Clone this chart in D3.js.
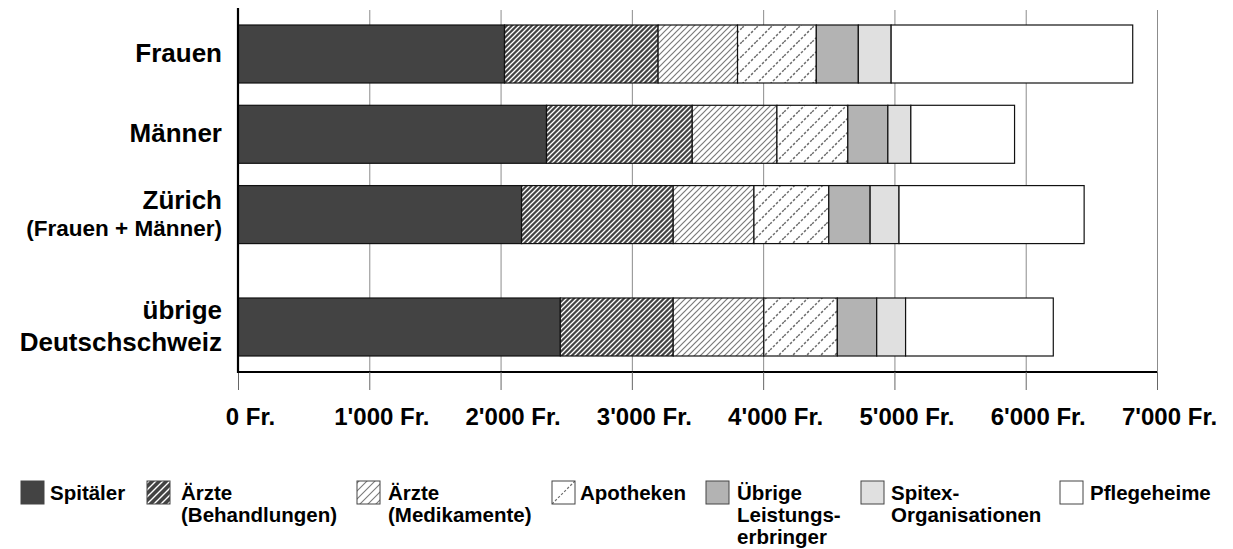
<!DOCTYPE html>
<html>
<head>
<meta charset="utf-8">
<script src="https://cdn.jsdelivr.net/npm/d3@7"></script>
<style>
  html, body { margin: 0; padding: 0; background: #ffffff; }
  svg { display: block; font-family: "Liberation Sans", Arial, sans-serif; font-weight: bold; }
</style>
</head>
<body>
<svg id="chart" width="1233" height="549"></svg>
<script>
// ---------- DATA ----------
const categories = ["Frauen", "Männer", "Zürich (Frauen + Männer)", "übrige Deutschschweiz"];
const categoryLines = [["Frauen"], ["Männer"], ["Zürich", "(Frauen + Männer)"], ["übrige", "Deutschschweiz"]];
const seriesNames = ["Spitäler", "Ärzte (Behandlungen)", "Ärzte (Medikamente)", "Apotheken",
                     "Übrige Leistungserbringer", "Spitex-Organisationen", "Pflegeheime"];
const legendLines = [["Spitäler"], ["Ärzte", "(Behandlungen)"], ["Ärzte", "(Medikamente)"], ["Apotheken"],
                     ["Übrige", "Leistungs-", "erbringer"], ["Spitex-", "Organisationen"], ["Pflegeheime"]];
const spitaeler   = [2030, 2350, 2160, 2455];
const aerzteBeh   = [1170, 1110, 1155, 860];
const aerzteMed   = [605, 645, 615, 690];
const apotheken   = [600, 540, 570, 560];
const uebrige     = [320, 305, 315, 300];
const spitex      = [250, 175, 220, 220];
const pflegeheime = [1840, 790, 1410, 1125];
const tickValues  = [0, 1000, 2000, 3000, 4000, 5000, 6000, 7000];
const tickLabels  = ["0 Fr.", "1'000 Fr.", "2'000 Fr.", "3'000 Fr.", "4'000 Fr.", "5'000 Fr.", "6'000 Fr.", "7'000 Fr."];

// ---------- LAYOUT / STYLE ----------
const rowSlots = [0, 1, 2, 3.4];           // vertical slot of each category (gap before last)
const plot = { left: 238, right: 1157, top: 10, bottom: 372 };
const barH = 58;
const fills = ["#434343", "url(#pBeh)", "url(#pMed)", "url(#pApo)", "#b3b3b3", "#e0e0e0", "#ffffff"];
const legendFills = ["#434343", "url(#lBeh)", "url(#lMed)", "url(#lApo)", "#b3b3b3", "#e0e0e0", "#ffffff"];
const legendSquareX = [21, 147, 357, 552, 706, 861, 1060];
const legendTextX   = [50, 181, 388, 580, 737, 891, 1090];

const svg = d3.select("#chart");
const defs = svg.append("defs");

function hatch(id, size, bg, color, width, dash) {
  const p = defs.append("pattern").attr("id", id).attr("patternUnits", "userSpaceOnUse")
    .attr("width", size).attr("height", size);
  p.append("rect").attr("width", size).attr("height", size).attr("fill", bg);
  p.append("path")
    .attr("d", `M${-size},${size} L${size},${-size} M0,${size} L${size},0 M0,${2*size} L${2*size},0`)
    .attr("stroke", color).attr("stroke-width", width)
    .attr("stroke-dasharray", dash || null);
}
hatch("pBeh", 5, "#434343", "#ffffff", 1.3, null);
hatch("pMed", 6, "#ffffff", "#7a7a7a", 1.2, null);
hatch("pApo", 14, "#ffffff", "#6e6e6e", 1.5, "2.5,1.8");
hatch("lBeh", 7, "#434343", "#ffffff", 1.4, null);
hatch("lMed", 8, "#ffffff", "#7a7a7a", 1.1, null);
hatch("lApo", 24, "#ffffff", "#6e6e6e", 1.2, "2.5,1.8");

// ---------- SCALES ----------
const x = d3.scaleLinear().domain([0, 7000]).range([plot.left, plot.right]);
const yc = d3.scaleLinear().domain([0, 3.4]).range([54, 327]);

// ---------- GRID ----------
const grid = svg.append("g").attr("transform", `translate(0,${plot.bottom})`)
  .call(d3.axisBottom(x).tickValues(tickValues).tickSize(-(plot.bottom - plot.top)).tickFormat(""));
grid.select(".domain").remove();
grid.selectAll(".tick line").attr("stroke", "#8c8c8c").attr("stroke-width", 1);

// ---------- BARS ----------
const keys = seriesNames;
const seriesArrays = [spitaeler, aerzteBeh, aerzteMed, apotheken, uebrige, spitex, pflegeheime];
const rows = categories.map((c, i) => {
  const r = { cat: c, idx: i };
  keys.forEach((k, j) => r[k] = seriesArrays[j][i]);
  return r;
});
const stacked = d3.stack().keys(keys)(rows);

svg.append("g").selectAll("g").data(stacked).join("g")
  .attr("fill", (d, i) => fills[i])
  .selectAll("rect").data(d => d).join("rect")
  .attr("x", d => x(d[0]))
  .attr("width", d => x(d[1]) - x(d[0]))
  .attr("y", d => yc(rowSlots[d.data.idx]) - barH / 2)
  .attr("height", barH)
  .attr("stroke", "#111")
  .attr("stroke-width", 1.2);

// ---------- AXES ----------
const xAxis = svg.append("g").attr("transform", `translate(0,${plot.bottom})`)
  .call(d3.axisBottom(x).tickValues(tickValues).tickSize(18).tickPadding(18)
        .tickFormat((d, i) => tickLabels[i]));
xAxis.select(".domain").attr("stroke", "#000").attr("stroke-width", 2.2)
  .attr("d", `M${plot.left},0H${plot.right}`);
xAxis.selectAll(".tick line").attr("stroke", "#666").attr("stroke-width", 1);
xAxis.selectAll(".tick text")
  .attr("font-family", "'Liberation Sans', Arial, sans-serif")
  .attr("font-weight", "bold").attr("font-size", 24).attr("fill", "#000")
  .attr("dx", 12);

svg.append("line")
  .attr("x1", plot.left).attr("x2", plot.left)
  .attr("y1", plot.top - 2).attr("y2", plot.bottom + 1)
  .attr("stroke", "#000").attr("stroke-width", 2.2);

// ---------- CATEGORY LABELS ----------
const catG = svg.append("g");
categoryLines.forEach((lines, i) => {
  const c = yc(rowSlots[i]);
  const sizes = lines.map((l, j) => (i === 2 && j === 1) ? 22.5 : 26);
  const gaps = lines.length > 1 ? (i === 2 ? 27 : 32) : 0;
  const start = c + 8 - gaps / 2;
  lines.forEach((l, j) => {
    catG.append("text")
      .attr("x", 222).attr("y", start + j * gaps)
      .attr("text-anchor", "end")
      .attr("font-size", sizes[j]).attr("fill", "#000")
      .text(l);
  });
});

// ---------- LEGEND ----------
const leg = svg.append("g");
seriesNames.forEach((s, i) => {
  leg.append("rect")
    .attr("x", legendSquareX[i]).attr("y", 481)
    .attr("width", 23).attr("height", 23)
    .attr("fill", legendFills[i]).attr("stroke", "#444").attr("stroke-width", 1);
  legendLines[i].forEach((l, j) => {
    leg.append("text")
      .attr("x", legendTextX[i]).attr("y", 500 + j * 22)
      .attr("font-size", 20.5).attr("fill", "#000")
      .text(l);
  });
});
</script>
</body>
</html>
